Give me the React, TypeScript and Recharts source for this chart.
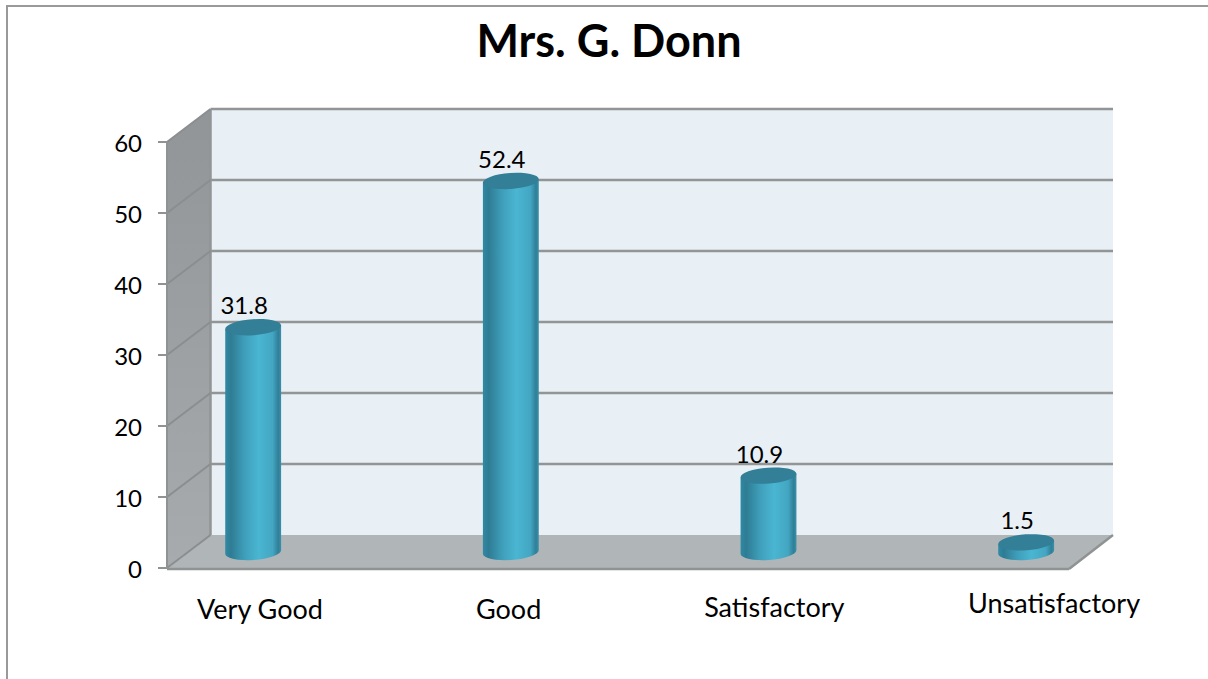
import React from "react";
import { ComposedChart, Bar, XAxis, YAxis, CartesianGrid, LabelList } from "recharts";

const categories = ["Very Good", "Good", "Satisfactory", "Unsatisfactory"];
const values = [31.8, 52.4, 10.9, 1.5];
const yTicks = [0, 10, 20, 30, 40, 50, 60];
const rows = categories.map((name, i) => ({ name, value: values[i] }));

// layout of the pseudo-3D frame
const FONT = "Lato, 'Open Sans', sans-serif";
const DX = 43.5;
const DY = -33;
const LEFT = 167;
const TOP = 142;
const BOTTOM = 568;
const FRONT_RIGHT = 1069;
const BAR_W = 56;
const RY = 8;
const TILT = -4;
const BAR_LIFT = -15;
const labelShift = [
  { dx: 7, dy: 43 },
  { dx: -2, dy: 43 },
  { dx: 6, dy: 41 },
  { dx: 28, dy: 37 },
];

function gridLine(props: any) {
  const { y1, index } = props;
  const backL = LEFT + DX;
  const backR = 1113;
  const isFloor = Math.abs(y1 - BOTTOM) < 3;
  return (
    <g key={`g-${index}`}>
      {index === 0 && (
        <g>
          <polygon points={`${backL},${TOP + DY} ${backR},${TOP + DY} ${backR},${BOTTOM + DY} ${backL},${BOTTOM + DY}`} fill="#e8eff5" />
          <polygon points={`${LEFT},${TOP} ${backL},${TOP + DY} ${backL},${BOTTOM + DY} ${LEFT},${BOTTOM}`} fill="url(#wallGrad)" />
          <polygon points={`${LEFT},${BOTTOM + 1} ${backL},${BOTTOM + DY} ${backR},${BOTTOM + DY} ${FRONT_RIGHT},${BOTTOM + 1}`} fill="#b0b5b8" />
          <line x1={backL} y1={TOP + DY} x2={backL} y2={BOTTOM + DY} stroke="#929596" strokeWidth={2.5} />
        </g>
      )}
      <line x1={LEFT} y1={y1} x2={backL} y2={y1 + DY} stroke="#8b8e8f" strokeWidth={2} />
      {!isFloor && <line x1={backL} y1={y1 + DY} x2={backR} y2={y1 + DY} stroke="#929596" strokeWidth={2.5} />}
      {isFloor && <line x1={LEFT} y1={BOTTOM + 1} x2={FRONT_RIGHT} y2={BOTTOM + 1} stroke="#909394" strokeWidth={2.5} />}
      {isFloor && <line x1={FRONT_RIGHT} y1={BOTTOM + 1} x2={backR} y2={BOTTOM + DY} stroke="#909394" strokeWidth={2.5} />}
    </g>
  );
}

function Cylinder(props: any) {
  const { x, y, width, height } = props;
  const cx = x + width / 2;
  const rx = BAR_W / 2;
  const rad = (TILT * Math.PI) / 180;
  const ox = rx * Math.cos(rad);
  const oy = rx * Math.sin(rad);
  const top = y + BAR_LIFT;
  const base = y + height + BAR_LIFT - 1;
  const d = `M${cx - ox},${top - oy} L${cx - ox},${base - oy} A${rx},${RY} ${TILT} 0 0 ${cx + ox},${base + oy} L${cx + ox},${top + oy} Z`;
  return (
    <g>
      <path d={d} fill="url(#cylGrad)" />
      <ellipse cx={cx} cy={top} rx={rx} ry={RY} fill="#327f97" transform={`rotate(${TILT} ${cx} ${top})`} />
    </g>
  );
}

function ValueLabel(props: any) {
  const { x, y, width, value } = props;
  return (
    <text x={x + width / 2 - 9} y={y + BAR_LIFT - 13} textAnchor="middle" fontFamily={FONT} fontSize={24} fill="#000">
      {value}
    </text>
  );
}

function CategoryTick(props: any) {
  const { x, y, payload, index } = props;
  const s = labelShift[index] || { dx: 0, dy: 0 };
  return (
    <text x={x + s.dx} y={y + s.dy} textAnchor="middle" fontFamily={FONT} fontSize={27} fill="#000">
      {payload.value}
    </text>
  );
}

function YTick(props: any) {
  const { x, y, payload } = props;
  return (
    <text x={x - 14} y={y + 10} textAnchor="end" fontFamily={FONT} fontSize={24} fill="#000">
      {payload.value}
    </text>
  );
}

export default function App() {
  return (
    <div style={{ position: "absolute", left: 0, top: 0, width: 1208, height: 679, overflow: "hidden", background: "#fff" }}>
      <div style={{ position: "absolute", left: 6, top: 5, right: 0, bottom: 0, borderTop: "2px solid #999", borderLeft: "2px solid #999" }} />
      <div style={{ position: "absolute", left: 0, right: 0, top: 13, paddingLeft: 10, textAlign: "center", fontFamily: FONT, fontWeight: 700, fontSize: 45, lineHeight: "54px", color: "#000" }}>
        Mrs. G. Donn
      </div>
      <div style={{ position: "absolute", left: 0, top: 0 }}>
        <ComposedChart
          width={1208}
          height={679}
          data={rows}
          margin={{ top: TOP, right: 95, bottom: 679 - BOTTOM - 60, left: LEFT - 40 }}
          barSize={BAR_W}
        >
          <defs>
            <linearGradient id="cylGrad" x1="0" y1="0" x2="1" y2="0">
              <stop offset="0" stopColor="#2f8aa5" />
              <stop offset="0.1" stopColor="#2e7c93" />
              <stop offset="0.35" stopColor="#3f9fbb" />
              <stop offset="0.6" stopColor="#4ab6d2" />
              <stop offset="0.85" stopColor="#43a6c2" />
              <stop offset="0.95" stopColor="#2f7f97" />
              <stop offset="1" stopColor="#3a90a9" />
            </linearGradient>
            <linearGradient id="wallGrad" x1="0" y1="0" x2="0" y2="1">
              <stop offset="0" stopColor="#929598" />
              <stop offset="1" stopColor="#a8abad" />
            </linearGradient>
          </defs>
          <CartesianGrid vertical={false} horizontal={gridLine} />
          <XAxis
            dataKey="name"
            scale="point"
            padding={{ left: 86, right: 87 }}
            height={60}
            axisLine={false}
            tickLine={false}
            tick={<CategoryTick />}
            interval={0}
          />
          <YAxis
            width={40}
            domain={[0, 60]}
            ticks={yTicks}
            interval={0}
            tickSize={9}
            axisLine={{ stroke: "#909394", strokeWidth: 2 }}
            tickLine={{ stroke: "#909394", strokeWidth: 2 }}
            tick={<YTick />}
          />
          <Bar dataKey="value" isAnimationActive={false} shape={<Cylinder />}>
            <LabelList dataKey="value" content={<ValueLabel />} />
          </Bar>
        </ComposedChart>
      </div>
    </div>
  );
}
